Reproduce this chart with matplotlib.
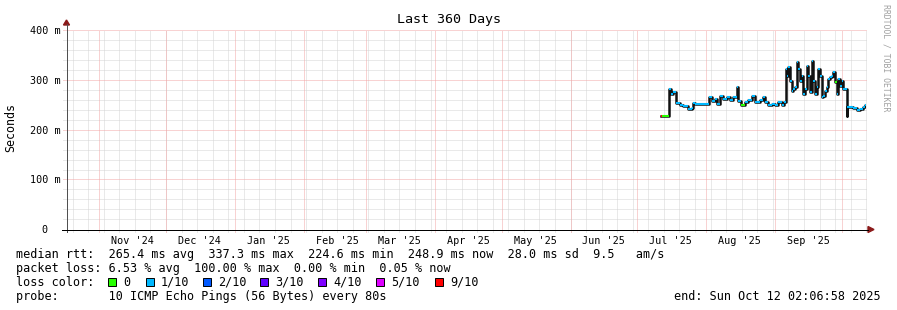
import matplotlib
matplotlib.use("Agg")
import matplotlib.pyplot as plt
import matplotlib.dates as mdates
from matplotlib.patches import Rectangle, Polygon
from matplotlib.lines import Line2D
import pandas as pd
import numpy as np

# ---------------- data ----------------
title = "Last 360 Days"
range_start = "2024-10-17 02:06:58"
range_end = "2025-10-12 02:06:58"

times = [
    "2025-07-11 18:00", "2025-07-12 04:00", "2025-07-14 10:00", "2025-07-15 02:00",
    "2025-07-16 00:00", "2025-07-17 02:00", "2025-07-18 12:00", "2025-07-20 06:00",
    "2025-07-21 17:00", "2025-07-24 00:00", "2025-07-25 12:00", "2025-07-26 05:00",
    "2025-07-27 00:00", "2025-08-01 20:00", "2025-08-02 07:00", "2025-08-03 12:00",
    "2025-08-05 00:00", "2025-08-05 19:00", "2025-08-07 06:00", "2025-08-08 17:00",
    "2025-08-10 07:00", "2025-08-11 18:00", "2025-08-13 05:00", "2025-08-14 19:00",
    "2025-08-15 12:00", "2025-08-16 17:00", "2025-08-18 12:00", "2025-08-20 00:00",
    "2025-08-21 19:00", "2025-08-23 00:00", "2025-08-25 06:00", "2025-08-26 17:00",
    "2025-08-27 12:00", "2025-08-29 00:00", "2025-08-30 12:00", "2025-09-01 00:00",
    "2025-09-02 12:00", "2025-09-04 00:00", "2025-09-05 00:00", "2025-09-05 19:00",
    "2025-09-06 07:00", "2025-09-07 00:00", "2025-09-07 17:00", "2025-09-08 12:00",
    "2025-09-09 05:00", "2025-09-10 00:00", "2025-09-10 18:00", "2025-09-11 12:00",
    "2025-09-12 05:00", "2025-09-13 00:00", "2025-09-13 17:00", "2025-09-14 12:00",
    "2025-09-15 06:00", "2025-09-16 00:00", "2025-09-16 17:00", "2025-09-17 12:00",
    "2025-09-18 05:00", "2025-09-19 00:00", "2025-09-19 18:00", "2025-09-20 12:00",
    "2025-09-21 05:00", "2025-09-22 00:00", "2025-09-22 17:00", "2025-09-23 12:00",
    "2025-09-24 05:00", "2025-09-25 00:00", "2025-09-25 17:00", "2025-09-26 12:00",
    "2025-09-27 05:00", "2025-09-28 00:00", "2025-09-28 17:00", "2025-09-29 12:00",
    "2025-09-30 05:00", "2025-10-01 00:00", "2025-10-01 17:00", "2025-10-02 12:00",
    "2025-10-03 06:00", "2025-10-03 12:00", "2025-10-04 17:00", "2025-10-06 05:00",
    "2025-10-07 17:00", "2025-10-09 05:00", "2025-10-10 17:00", "2025-10-11 12:00",
]
rtt_ms = [
    227, 227, 227, 282, 272, 276, 254, 249, 247, 242, 244, 253,
    252, 252, 266, 258, 262, 252, 268, 262, 266, 259, 265, 285,
    258, 250, 255, 259, 268, 255, 259, 265, 255, 249, 252, 249,
    255, 250, 255, 322, 308, 325, 298, 278, 282, 285, 335, 322,
    298, 308, 272, 282, 328, 308, 276, 337, 298, 272, 285, 322,
    308, 265, 268, 278, 285, 302, 305, 308, 315, 295, 272, 302,
    288, 298, 282, 282, 228, 245, 245, 243, 239, 242, 245, 249,
]
loss_level = [
    6, 0, 0, 1, 1, 1, 1, 1, 1, 1, 1, 1,
    1, 1, 1, 1, 1, 1, 1, 1, 1, 1, 1, 1,
    1, 0, 1, 1, 1, 1, 1, 1, 1, 1, 1, 1,
    1, 1, 1, 1, 1, 1, 1, 1, 1, 1, 1, 1,
    1, 1, 1, 1, 1, 1, 1, 1, 1, 1, 1, 1,
    1, 1, 1, 1, 1, 1, 1, 1, 1, 0, 1, 1,
    1, 1, 1, 1, 1, 1, 1, 1, 1, 1, 1, 1,
]
loss_labels = ["0", "1/10", "2/10", "3/10", "4/10", "5/10", "9/10"]
loss_colors = ["#26ff00", "#00b8ff", "#0059ff", "#5e00ff", "#7e00ff", "#dd00ff", "#ff0000"]

y_ticks = [0, 100, 200, 300, 400]
y_tick_labels = ["0  ", "100 m", "200 m", "300 m", "400 m"]
y_label = "Seconds"

legend_rows = [
    "median rtt:  265.4 ms avg  337.3 ms max  224.6 ms min  248.9 ms now  28.0 ms sd  9.5   am/s",
    "packet loss: 6.53 % avg  100.00 % max  0.00 % min  0.05 % now",
    "loss color:",
    "probe:       10 ICMP Echo Pings (56 Bytes) every 80s",
]
end_text = "end: Sun Oct 12 02:06:58 2025"
credit = "RRDTOOL / TOBI OETIKER"

# ---------------- figure ----------------
W, H = 897, 310
MONO = "DejaVu Sans Mono"
fig = plt.figure(figsize=(W / 100, H / 100), dpi=100)
fig.patch.set_facecolor("white")

def fx(x):
    return x / W

def fy(y):
    return 1 - y / H

x0, x1 = 66.2, 866.4
y_top, y_bot = 30.0, 229.3
ax = fig.add_axes([fx(x0), fy(y_bot), (x1 - x0) / W, (y_bot - y_top) / H])
ax.set_facecolor("white")

t = mdates.date2num(pd.to_datetime(times))
t_start = mdates.date2num(pd.Timestamp(range_start))
t_end = mdates.date2num(pd.Timestamp(range_end))
ax.set_xlim(t_start, t_end)
ax.set_ylim(0, 400)

for s in ax.spines.values():
    s.set_visible(False)

grid_minor = "#d4d4d4"
grid_major = "#f3a6a6"
dash = (0, (1, 1))

# horizontal grid
for v in np.arange(20, 401, 20):
    major = (v % 100 == 0)
    ax.axhline(v, xmin=-0.004, xmax=1, color=grid_major if major else grid_minor,
               lw=0.72, ls=dash, clip_on=False, zorder=1.1 if major else 1, snap=True)

# vertical grid: weeks (Sundays) and month starts
weeks = pd.date_range(pd.Timestamp(range_start).normalize(), pd.Timestamp(range_end), freq="W-SUN")
months = pd.date_range("2024-11-01", pd.Timestamp(range_end), freq="MS")
for d in weeks:
    ax.axvline(mdates.date2num(d), ymin=-0.012, ymax=1, color=grid_minor, lw=0.72,
               ls=dash, clip_on=False, zorder=1, snap=True)
for d in months:
    ax.axvline(mdates.date2num(d), ymin=-0.015, ymax=1, color=grid_major, lw=0.72,
               ls=dash, clip_on=False, zorder=1.1, snap=True)

# x labels at mid month
mids = [d + pd.Timedelta(days=15) for d in months if d + pd.Timedelta(days=15) < pd.Timestamp(range_end)]
ax.set_xticks(mdates.date2num(mids))
ax.set_xticklabels([d.strftime("%b '%y") for d in mids], family=MONO, fontsize=7.3)
ax.tick_params(axis="x", length=0, pad=4.5)
ax.set_yticks(y_ticks)
ax.set_yticklabels(y_tick_labels, family=MONO, fontsize=7.3)
ax.tick_params(axis="y", length=0, pad=4.3)

# ---------------- data marks ----------------
t_next = np.append(t[1:], t[-1] + 0.6)
ax.step(np.append(t, t_next[-1]), np.append(rtt_ms, rtt_ms[-1]), where="post",
        color="#111111", lw=1.8, zorder=3)
ax.hlines(rtt_ms, t, t_next, colors=[loss_colors[i] for i in loss_level], lw=1.5, zorder=4)

# ---------------- axes lines and arrows ----------------
fig.add_artist(Line2D([fx(66.5), fx(66.5)], [fy(232), fy(24)], color="#505050", lw=0.72))
fig.add_artist(Line2D([fx(62), fx(868)], [fy(229.5), fy(229.5)], color="#000000", lw=0.72))
fig.add_artist(Polygon([[fx(63.5), fy(25)], [fx(69.5), fy(25)], [fx(66.5), fy(20)]],
                       closed=True, color="#8b1a1a"))
fig.add_artist(Polygon([[fx(868), fy(226.5)], [fx(868), fy(232.5)], [fx(874), fy(229.5)]],
                       closed=True, color="#8b1a1a"))

# ---------------- texts ----------------
fig.text(0.5, fy(19), title, ha="center", va="center", family=MONO, fontsize=9.6)
fig.text(fx(11), fy(128), y_label, rotation=90, ha="center", va="center", family=MONO, fontsize=8.4)
fig.text(fx(886), fy(4), credit, rotation=270, ha="center", va="top", family=MONO,
         fontsize=5.9, color="#a0a0a0")

row_y = [254.3, 268.3, 282.3, 296.3]
for txt, ry in zip(legend_rows, row_y):
    fig.text(fx(16), fy(ry), txt, ha="left", va="center", family=MONO, fontsize=8.5)
fig.text(fx(881), fy(row_y[3]), end_text, ha="right", va="center", family=MONO, fontsize=8.5)

box_x = [108, 146, 203, 260, 318, 376, 435]
for bx, lab, col in zip(box_x, loss_labels, loss_colors):
    fig.add_artist(Rectangle((fx(bx), fy(row_y[2] + 4)), 7.5 / W, 8 / H,
                             facecolor=col, edgecolor="black", lw=0.7))
    fig.text(fx(bx + 15), fy(row_y[2]), lab, ha="left", va="center", family=MONO, fontsize=8.5)

fig.savefig("out.png", dpi=100, facecolor="white")
